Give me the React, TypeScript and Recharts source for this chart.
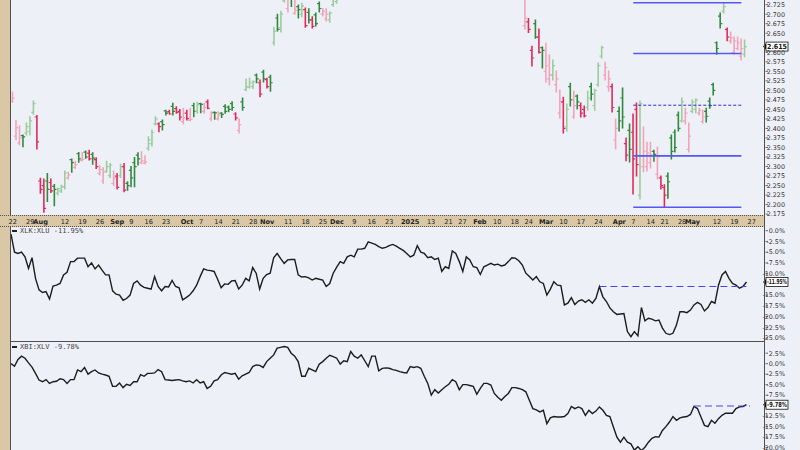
import React from "react";
import { ComposedChart, Bar, Line, XAxis, YAxis, ReferenceLine, Legend } from "recharts";

// market holidays inside the window
const closedDays = [
  "2024-09-02", "2024-11-28", "2024-12-25", "2025-01-01", "2025-01-09",
  "2025-01-20", "2025-02-17", "2025-04-18", "2025-05-26",
];

function tradingDays(from: string, to: string) {
  const out: string[] = [];
  const d = new Date(from + "T12:00:00Z");
  const end = new Date(to + "T12:00:00Z");
  while (d <= end) {
    const wd = d.getUTCDay();
    const s = d.toISOString().slice(0, 10);
    if (wd !== 0 && wd !== 6 && !closedDays.includes(s)) out.push(s);
    d.setUTCDate(d.getUTCDate() + 1);
  }
  return out;
}

const days = tradingDays("2024-07-22", "2025-05-30");

const tickLabels: [string, string][] = [
  ["2024-07-22", "22"], ["2024-07-29", "29"], ["2024-08-01", "Aug"], ["2024-08-12", "12"],
  ["2024-08-19", "19"], ["2024-08-26", "26"], ["2024-09-03", "Sep"], ["2024-09-09", "9"],
  ["2024-09-16", "16"], ["2024-09-23", "23"], ["2024-10-01", "Oct"], ["2024-10-07", "7"],
  ["2024-10-14", "14"], ["2024-10-21", "21"], ["2024-10-28", "28"], ["2024-11-01", "Nov"],
  ["2024-11-11", "11"], ["2024-11-18", "18"], ["2024-11-25", "25"], ["2024-12-02", "Dec"],
  ["2024-12-09", "9"], ["2024-12-16", "16"], ["2024-12-23", "23"], ["2025-01-02", "2025"],
  ["2025-01-13", "13"], ["2025-01-21", "21"], ["2025-01-27", "27"], ["2025-02-03", "Feb"],
  ["2025-02-10", "10"], ["2025-02-18", "18"], ["2025-02-24", "24"], ["2025-03-03", "Mar"],
  ["2025-03-10", "10"], ["2025-03-17", "17"], ["2025-03-24", "24"], ["2025-04-01", "Apr"],
  ["2025-04-07", "7"], ["2025-04-14", "14"], ["2025-04-21", "21"], ["2025-04-28", "28"],
  ["2025-05-01", "May"], ["2025-05-12", "12"], ["2025-05-19", "19"], ["2025-05-27", "27"],
];
const boldLabels = ["Aug", "Sep", "Oct", "Nov", "Dec", "2025", "Feb", "Mar", "Apr", "May"];

// XLK:XLU price bars (Dec - mid Feb run above the visible range)
const priorClose = 2.5;
const hidden = new Array(53).fill(null);

const barOpen = [
  2.472, 2.380, 2.362, 2.381, 2.388, 2.392, 2.442, 2.430, 2.262, 2.250,
  2.262, 2.258, 2.248, 2.230, 2.236, 2.246, 2.270, 2.318, 2.298, 2.334,
  2.316, 2.338, 2.335, 2.332, 2.318, 2.282, 2.262, 2.288, 2.276, 2.256,
  2.275, 2.276, 2.300, 2.256, 2.290, 2.310, 2.330, 2.310, 2.309, 2.348,
  2.360, 2.412, 2.412, 2.418, 2.446, 2.444, 2.458, 2.452, 2.445, 2.418,
  2.440, 2.421, 2.460, 2.445, 2.465, 2.445, 2.470, 2.425, 2.442, 2.425,
  2.440, 2.458, 2.456, 2.465, 2.438, 2.395, 2.470, 2.502, 2.508, 2.510,
  2.540, 2.520, 2.548, 2.528, 2.535, 2.625, 2.690, 2.665, 2.735, 2.715,
  2.755, 2.702, 2.720, 2.700, 2.712, 2.705, 2.685, 2.698, 2.728, 2.700,
  2.688, 2.685, 2.725, 2.733,
  ...hidden,
  2.670, 2.680, 2.605,
  2.675, 2.640, 2.612, 2.550, 2.530, 2.540, 2.515, 2.440, 2.470, 2.405,
  2.510, 2.430, 2.485, 2.460, 2.450, 2.455, 2.510, 2.460, 2.515, 2.590,
  2.540, 2.510, 2.510, 2.370, 2.445, 2.480, 2.360, 2.395, 2.390, 2.450,
  2.225, 2.300, 2.300, 2.310, 2.340, 2.280, 2.270, 2.245, 2.275, 2.375,
  2.390, 2.435, 2.420, 2.420, 2.345, 2.445, 2.450, 2.440, 2.418, 2.445,
  2.472, 2.515, 2.625, 2.695, 2.708, 2.660, 2.630, 2.600, 2.610, 2.590,
  2.595,
];

const barHigh = [
  2.496, 2.420, 2.407, 2.383, 2.414, 2.431, 2.472, 2.434, 2.269, 2.267,
  2.282, 2.267, 2.253, 2.243, 2.251, 2.288, 2.285, 2.320, 2.314, 2.337,
  2.337, 2.341, 2.343, 2.336, 2.323, 2.302, 2.297, 2.314, 2.308, 2.288,
  2.282, 2.306, 2.308, 2.260, 2.300, 2.324, 2.336, 2.339, 2.328, 2.378,
  2.396, 2.431, 2.415, 2.422, 2.448, 2.448, 2.466, 2.457, 2.450, 2.453,
  2.448, 2.453, 2.466, 2.469, 2.466, 2.466, 2.475, 2.444, 2.443, 2.444,
  2.441, 2.462, 2.459, 2.470, 2.441, 2.425, 2.480, 2.530, 2.532, 2.525,
  2.543, 2.527, 2.553, 2.532, 2.540, 2.666, 2.700, 2.708, 2.760, 2.760,
  2.760, 2.755, 2.724, 2.729, 2.716, 2.714, 2.693, 2.703, 2.732, 2.714,
  2.714, 2.706, 2.745, 2.760,
  ...hidden,
  2.760, 2.689, 2.616,
  2.685, 2.661, 2.614, 2.624, 2.593, 2.580, 2.551, 2.501, 2.482, 2.464,
  2.519, 2.498, 2.488, 2.467, 2.459, 2.498, 2.519, 2.503, 2.572, 2.616,
  2.574, 2.551, 2.517, 2.425, 2.456, 2.506, 2.375, 2.412, 2.438, 2.467,
  2.472, 2.404, 2.364, 2.364, 2.343, 2.351, 2.275, 2.252, 2.283, 2.383,
  2.396, 2.443, 2.480, 2.453, 2.414, 2.475, 2.477, 2.453, 2.448, 2.453,
  2.480, 2.519, 2.627, 2.703, 2.729, 2.664, 2.653, 2.640, 2.640, 2.635,
  2.632,
];

const barLow = [
  2.469, 2.370, 2.357, 2.352, 2.383, 2.383, 2.437, 2.346, 2.230, 2.180,
  2.208, 2.232, 2.197, 2.225, 2.232, 2.241, 2.267, 2.285, 2.295, 2.311,
  2.315, 2.322, 2.317, 2.306, 2.295, 2.278, 2.256, 2.285, 2.271, 2.250,
  2.241, 2.271, 2.234, 2.238, 2.247, 2.247, 2.304, 2.307, 2.307, 2.343,
  2.354, 2.409, 2.391, 2.396, 2.435, 2.438, 2.435, 2.440, 2.422, 2.412,
  2.422, 2.420, 2.431, 2.440, 2.441, 2.440, 2.452, 2.420, 2.424, 2.422,
  2.429, 2.440, 2.444, 2.448, 2.422, 2.388, 2.448, 2.499, 2.506, 2.505,
  2.520, 2.483, 2.522, 2.506, 2.498, 2.619, 2.656, 2.653, 2.732, 2.706,
  2.720, 2.700, 2.690, 2.693, 2.666, 2.677, 2.664, 2.669, 2.706, 2.695,
  2.682, 2.679, 2.721, 2.729,
  ...hidden,
  2.661, 2.652, 2.564,
  2.637, 2.598, 2.559, 2.521, 2.514, 2.527, 2.496, 2.427, 2.388, 2.393,
  2.459, 2.427, 2.451, 2.430, 2.430, 2.448, 2.475, 2.448, 2.511, 2.585,
  2.527, 2.498, 2.443, 2.346, 2.393, 2.401, 2.315, 2.312, 2.228, 2.275,
  2.215, 2.286, 2.288, 2.296, 2.314, 2.267, 2.241, 2.194, 2.217, 2.320,
  2.338, 2.393, 2.417, 2.412, 2.338, 2.441, 2.441, 2.435, 2.414, 2.417,
  2.453, 2.488, 2.595, 2.664, 2.703, 2.630, 2.624, 2.595, 2.606, 2.580,
  2.588,
];

const barClose = [
  2.480, 2.402, 2.375, 2.378, 2.405, 2.420, 2.465, 2.365, 2.240, 2.190,
  2.240, 2.236, 2.240, 2.242, 2.248, 2.283, 2.278, 2.310, 2.305, 2.320,
  2.319, 2.325, 2.320, 2.322, 2.300, 2.292, 2.285, 2.300, 2.304, 2.270,
  2.245, 2.300, 2.238, 2.250, 2.270, 2.300, 2.320, 2.315, 2.312, 2.370,
  2.390, 2.425, 2.405, 2.410, 2.440, 2.438, 2.445, 2.442, 2.430, 2.428,
  2.426, 2.424, 2.445, 2.462, 2.463, 2.455, 2.453, 2.440, 2.441, 2.435,
  2.437, 2.445, 2.450, 2.455, 2.428, 2.410, 2.455, 2.510, 2.520, 2.523,
  2.530, 2.490, 2.530, 2.510, 2.520, 2.655, 2.660, 2.700, 2.750, 2.740,
  2.745, 2.710, 2.712, 2.722, 2.670, 2.685, 2.668, 2.675, 2.715, 2.708,
  2.700, 2.703, 2.740, 2.750,
  ...hidden,
  2.690, 2.660, 2.585,
  2.640, 2.600, 2.605, 2.565, 2.540, 2.565, 2.530, 2.470, 2.400, 2.450,
  2.475, 2.460, 2.470, 2.440, 2.433, 2.480, 2.490, 2.500, 2.565, 2.612,
  2.560, 2.530, 2.455, 2.400, 2.420, 2.430, 2.330, 2.345, 2.320, 2.305,
  2.465, 2.340, 2.335, 2.330, 2.332, 2.325, 2.250, 2.225, 2.260, 2.340,
  2.350, 2.400, 2.470, 2.440, 2.380, 2.470, 2.475, 2.448, 2.430, 2.432,
  2.460, 2.500, 2.610, 2.675, 2.720, 2.640, 2.638, 2.630, 2.625, 2.610,
  2.615,
];

// XLK:XLU % change
const xlkXlu = [
  -0.8, -5.0, -5.3, -5.0, -6.1, -8.8, -6.3, -11.1, -13.8, -14.4,
  -14.2, -15.9, -12.9, -12.7, -12.3, -10.3, -9.7, -7.2, -7.2, -6.4,
  -6.4, -6.4, -8.4, -7.5, -8.9, -8.0, -9.2, -10.3, -10.3, -14.0,
  -14.8, -15.0, -16.2, -15.8, -15.0, -12.3, -11.7, -12.7, -13.2, -13.4,
  -13.6, -10.7, -13.0, -14.0, -13.0, -13.1, -11.6, -13.0, -13.3, -16.1,
  -15.6, -15.0, -14.0, -12.7, -10.7, -8.9, -9.2, -9.3, -9.5, -11.3,
  -13.3, -12.4, -12.5, -11.7, -11.6, -13.6, -12.7, -11.1, -11.7, -8.6,
  -9.9, -13.6, -11.1, -10.2, -9.9, -6.3, -5.3, -6.5, -7.6, -6.8,
  -6.7, -6.7, -10.3, -10.8, -10.7, -11.0, -11.5, -11.1, -11.3, -11.5,
  -13.0, -12.3, -9.9, -8.5, -7.2, -7.6, -6.1, -5.7, -6.1, -4.3,
  -4.3, -4.1, -2.6, -2.9, -3.2, -3.7, -4.1, -3.9, -3.5, -3.2,
  -3.6, -4.1, -4.6, -5.3, -6.1, -5.7, -3.5, -5.0, -5.3, -6.3,
  -6.1, -6.7, -6.4, -9.5, -8.4, -8.8, -4.7, -5.3, -7.2, -9.5,
  -6.1, -6.8, -8.4, -8.6, -10.2, -8.4, -8.0, -7.6, -8.0, -7.8,
  -8.2, -8.0, -7.2, -6.3, -6.4, -7.0, -8.0, -9.9, -10.7, -11.5,
  -10.7, -11.9, -12.3, -15.0, -13.6, -11.9, -12.7, -12.8, -17.3, -16.9,
  -15.6, -17.2, -16.4, -16.1, -16.7, -16.1, -16.9, -15.8, -13.0, -15.4,
  -16.5, -18.0, -18.9, -19.5, -19.4, -19.3, -23.5, -24.7, -23.5, -24.5,
  -17.9, -21.0, -20.4, -20.6, -21.0, -20.8, -22.7, -23.9, -24.2, -23.9,
  -22.0, -18.9, -18.9, -19.1, -18.5, -17.3, -16.7, -17.2, -18.7, -17.9,
  -16.5, -16.9, -12.7, -10.3, -9.5, -11.1, -12.3, -12.7, -13.4, -13.0,
  -11.95,
];

// XBI:XLV % change
const xbiXlv = [
  0.0, -0.6, 1.0, 1.8, 1.3, 0.2, -0.8, -2.3, -3.9, -4.3,
  -3.8, -4.7, -4.3, -4.2, -3.6, -3.8, -4.7, -3.8, -3.8, -1.5,
  -1.9, -0.9, -2.5, -1.9, -1.5, -2.2, -2.5, -2.7, -3.0, -5.4,
  -5.4, -4.6, -5.7, -4.9, -5.2, -4.3, -4.3, -2.6, -3.0, -2.3,
  -2.3, -2.2, -1.4, -1.9, -3.8, -3.9, -4.0, -3.9, -3.8, -4.1,
  -4.3, -4.1, -4.6, -3.8, -4.6, -4.3, -5.9, -5.4, -4.1, -3.8,
  -2.7, -2.1, -2.3, -2.5, -2.3, -3.7, -2.9, -2.5, -2.1, -0.7,
  -0.3, -0.4, -0.9, 0.5, 1.3, 2.1, 3.7, 3.9, 4.1, 3.9,
  2.5, 1.8, 0.5, -3.0, -3.0, -1.1, -1.5, -1.9, -0.1, 0.5,
  1.3, 2.0, 1.7, 1.3, -0.1, 0.7, 0.5, 2.9, 1.8, 1.3,
  2.1, 0.7, -0.7, 1.8, 1.8, -1.7, -1.1, -1.0, -1.1, -1.4,
  -1.6, -1.9, -2.1, -2.2, -0.7, -0.9, -0.7, -1.1, -3.0, -4.7,
  -7.5, -6.2, -7.0, -6.2, -5.5, -4.9, -3.8, -4.3, -6.2, -5.0,
  -5.0, -5.2, -5.4, -7.3, -5.9, -4.7, -4.7, -5.1, -7.1, -8.0,
  -8.7, -7.8, -7.1, -5.7, -5.7, -5.9, -6.2, -6.7, -8.7, -10.7,
  -11.0, -11.5, -11.1, -14.3, -12.9, -12.6, -12.7, -12.7, -12.6, -11.9,
  -10.2, -10.7, -10.3, -10.7, -12.3, -11.1, -11.9, -11.3, -10.3, -11.1,
  -12.3, -12.6, -15.1, -17.5, -18.7, -17.5, -18.7, -19.1, -20.6, -19.8,
  -20.7, -19.9, -18.7, -17.8, -17.4, -17.5, -15.9, -15.0, -13.9, -12.6,
  -13.5, -12.9, -12.7, -12.6, -12.1, -10.2, -10.7, -12.7, -14.7, -15.0,
  -13.5, -14.2, -13.1, -12.3, -11.8, -11.8, -11.8, -10.7, -10.3, -10.2,
  -9.78,
];

// axis ticks (the ones hidden under the last-value boxes are left out)
const priceTicks = [
  2.175, 2.2, 2.225, 2.25, 2.275, 2.3, 2.325, 2.35, 2.375, 2.4, 2.425, 2.45,
  2.475, 2.5, 2.525, 2.55, 2.575, 2.6, 2.65, 2.675, 2.7, 2.725,
];
const xlkTicks = [0, -2.5, -5, -7.5, -10, -15, -17.5, -20, -22.5, -25];
const xbiTicks = [2.5, 0, -2.5, -5, -7.5, -12.5, -15, -17.5, -20];

const priceLevels = [2.73, 2.597, 2.328, 2.193];
const priceDashLevel = 2.461;
const xlkDashLevel = -13.0;
const xbiDashLevel = -10.1;

const UP_DARK = "#2f8a3b";
const UP_LIGHT = "#9ccc9d";
const DN_DARK = "#e22a5a";
const DN_LIGHT = "#f2a3b8";

const labelMap: Record<string, string> = Object.fromEntries(tickLabels);
const tickDates = tickLabels.map((t) => t[0]);

let lastClose = priorClose;
const rows = days.map((d, i) => {
  const open = barOpen[i] ?? null;
  const high = barHigh[i] ?? null;
  const low = barLow[i] ?? null;
  const close = barClose[i] ?? null;
  let color = UP_DARK;
  if (close != null && open != null) {
    const up = close >= lastClose;
    const light = close > open;
    color = up ? (light ? UP_LIGHT : UP_DARK) : light ? DN_LIGHT : DN_DARK;
    lastClose = close;
  }
  return { d, open, high, low, close, color, xlk: xlkXlu[i] ?? null, xbi: xbiXlv[i] ?? null };
});

const FONT = "DejaVu Sans, sans-serif";
const BEIGE = "#d9c7a6";
const PANEL_BG = "#eef0f8";
const EDGE = "#505050";
const margin = { top: 0, right: 0, bottom: 0, left: 11 };

function OhlcShape(props: any) {
  const { x, y, width, height, payload } = props;
  if (!payload || payload.high == null || !Number.isFinite(y)) return <g />;
  const top = Math.min(y, y + height);
  const bot = Math.max(y, y + height);
  const span = payload.high - payload.low;
  const k = span > 0 ? (bot - top) / span : 0;
  const yo = top + (payload.high - payload.open) * k;
  const yc = top + (payload.high - payload.close) * k;
  const cx = x + width / 2;
  return (
    <g stroke={payload.color} strokeWidth={1.6}>
      <line x1={cx} x2={cx} y1={top - 0.5} y2={bot + 0.5} />
      <line x1={cx - 2.2} x2={cx} y1={yo} y2={yo} strokeWidth={1.2} />
      <line x1={cx} x2={cx + 2.2} y1={yc} y2={yc} strokeWidth={1.2} />
    </g>
  );
}

function DateTick({ x, y, payload }: any) {
  const label = labelMap[payload.value] ?? "";
  const bold = boldLabels.includes(label);
  return (
    <text x={x} y={y + 8.6} textAnchor="middle" fontSize={6.6} fontWeight={bold ? 700 : 400} fill="#222" fontFamily={FONT}>
      {label}
    </text>
  );
}

function makeTick(fmt: (v: number) => string) {
  return function Tick({ x, y, payload }: any) {
    return (
      <g>
        <line x1={x + 1.5} x2={x + 4} y1={y} y2={y} stroke="#444" strokeWidth={0.8} />
        <text x={x + 21} y={y} dy={2.3} textAnchor="end" fontSize={6.4} fill="#333" fontFamily={FONT}>
          {fmt(payload.value)}
        </text>
      </g>
    );
  };
}
const PriceTick = makeTick((v) => v.toFixed(3));
const PctTick = makeTick((v) => `${v.toFixed(1)}%`);

function ValueBox(props: any) {
  const { viewBox, text } = props;
  const right = viewBox.x + viewBox.width;
  const y = viewBox.y;
  const bx = right + 2;
  const bw = 22;
  const bh = 9;
  return (
    <g>
      <path d={`M${bx - 3},${y} L${bx},${y - 3} L${bx},${y + 3} Z`} fill="#111" />
      <rect x={bx} y={y - bh / 2} width={bw} height={bh} fill="#fff" stroke="#111" strokeWidth={0.8} />
      <text x={bx + bw / 2} y={y} dy={2.4} textAnchor="middle" fontSize={7} fontWeight={700} fill="#111" fontFamily={FONT} textLength={bw - 2} lengthAdjust="spacingAndGlyphs">
        {text}
      </text>
    </g>
  );
}

function PanelTag({ text }: { text: string }) {
  return (
    <div style={{ display: "flex", alignItems: "center", fontFamily: "DejaVu Sans Mono, monospace", fontSize: 7, color: "#444", whiteSpace: "nowrap", lineHeight: "8px" }}>
      <span style={{ display: "inline-block", width: 5, height: 2, background: "#222", marginRight: 3 }} />
      {text}
    </div>
  );
}

const pos = (left: number, top: number, width: number, height: number, extra: React.CSSProperties = {}): React.CSSProperties => ({
  position: "absolute", left, top, width, height, ...extra,
});

export default function App() {
  return (
    <div style={{ position: "absolute", left: 0, top: 0, width: 800, height: 450, background: PANEL_BG, overflow: "hidden" }}>
      <div style={pos(0, 0, 10, 450, { background: BEIGE })} />
      <div style={pos(0, 215, 765, 12, { background: BEIGE, borderTop: `1px dotted ${EDGE}`, borderBottom: `1px dotted ${EDGE}`, boxSizing: "border-box" })} />

      <div style={pos(0, 0, 800, 227)}>
        <ComposedChart width={800} height={227} data={rows} margin={margin} barCategoryGap={0}>
          <XAxis dataKey="d" ticks={tickDates} interval={0} height={11.5} tickLine={false} axisLine={false} tickSize={0} tickMargin={0} tick={<DateTick />} />
          <YAxis orientation="right" width={36} domain={[2.1714, 2.7373]} allowDataOverflow ticks={priceTicks} interval={0} tick={<PriceTick />} tickLine={false} axisLine={false} tickSize={0} tickMargin={0} />
          <Bar dataKey={(r: any) => (r.high == null ? null : [r.low, r.high])} shape={<OhlcShape />} isAnimationActive={false} />
          {priceLevels.map((v) => (
            <ReferenceLine key={v} segment={[{ x: days[178], y: v }, { x: days[209], y: v }]} stroke="#5656f0" strokeWidth={1.6} />
          ))}
          <ReferenceLine segment={[{ x: days[178], y: priceDashLevel }, { x: days[209], y: priceDashLevel }]} stroke="#2d2dc8" strokeWidth={1} strokeDasharray="3 2" />
          <ReferenceLine y={barClose[barClose.length - 1]} stroke="none" label={<ValueBox text="2.615" />} />
        </ComposedChart>
      </div>

      <div style={pos(0, 227, 800, 115)}>
        <ComposedChart width={800} height={115} data={rows} margin={margin}>
          <XAxis dataKey="d" hide />
          <YAxis orientation="right" width={36} domain={[-25.93, 0.86]} allowDataOverflow ticks={xlkTicks} interval={0} tick={<PctTick />} tickLine={false} axisLine={false} tickSize={0} tickMargin={0} />
          <Line dataKey="xlk" type="linear" stroke="#1c1c1c" strokeWidth={1.4} dot={false} isAnimationActive={false} />
          <ReferenceLine segment={[{ x: days[168], y: xlkDashLevel }, { x: days[210], y: xlkDashLevel }]} stroke="#4646e6" strokeWidth={1.1} strokeDasharray="7 4" />
          <ReferenceLine y={xlkXlu[xlkXlu.length - 1]} stroke="none" label={<ValueBox text="-11.95%" />} />
          <Legend verticalAlign="middle" align="center" layout="horizontal" wrapperStyle={{ left: 12, top: 0, width: "auto", height: "auto" }} content={() => <PanelTag text="XLK:XLU -11.95%" />} />
        </ComposedChart>
      </div>

      <div style={pos(0, 342, 800, 108)}>
        <ComposedChart width={800} height={108} data={rows} margin={margin}>
          <XAxis dataKey="d" hide />
          <YAxis orientation="right" width={36} domain={[-20.57, 5.17]} allowDataOverflow ticks={xbiTicks} interval={0} tick={<PctTick />} tickLine={false} axisLine={false} tickSize={0} tickMargin={0} />
          <Line dataKey="xbi" type="linear" stroke="#1c1c1c" strokeWidth={1.4} dot={false} isAnimationActive={false} />
          <ReferenceLine segment={[{ x: days[195], y: xbiDashLevel }, { x: days[211], y: xbiDashLevel }]} stroke="#4646e6" strokeWidth={1.1} strokeDasharray="7 4" />
          <ReferenceLine y={xbiXlv[xbiXlv.length - 1]} stroke="none" label={<ValueBox text="-9.78%" />} />
          <Legend verticalAlign="middle" align="center" layout="horizontal" wrapperStyle={{ left: 12, top: 1, width: "auto", height: "auto" }} content={() => <PanelTag text="XBI:XLV -9.78%" />} />
        </ComposedChart>
      </div>

      {/* panel frames */}
      <div style={pos(10, 0, 1, 215, { background: EDGE })} />
      <div style={pos(10, 227, 1, 223, { background: EDGE })} />
      <div style={pos(764, 0, 1, 450, { background: EDGE })} />
      <div style={pos(10, 341, 755, 1, { background: EDGE })} />
    </div>
  );
}
